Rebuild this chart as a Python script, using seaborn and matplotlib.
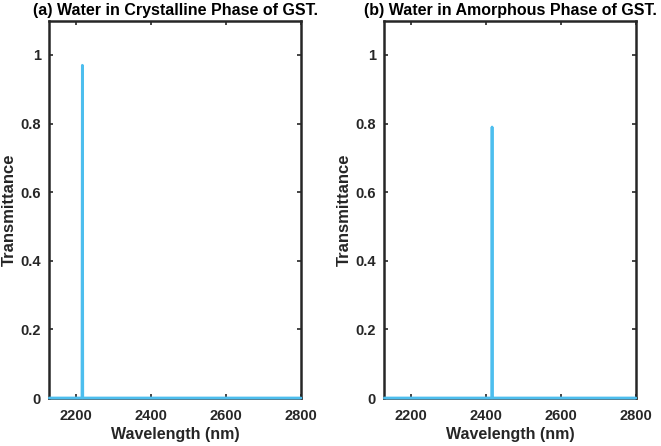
import matplotlib
matplotlib.use("Agg")
import matplotlib.pyplot as plt
import seaborn as sns
import pandas as pd

sns.set_theme(style="white")
plt.rcParams['font.family'] = ['Liberation Sans', 'DejaVu Sans']

titles = ["(a) Water in Crystalline Phase of GST.", "(b) Water in Amorphous Phase of GST."]
wl_a = [2130, 2217, 2218, 2219, 2800]
tr_a = [0.0, 0.0, 0.97, 0.0, 0.0]
wl_b = [2130, 2416, 2417, 2418, 2800]
tr_b = [0.0, 0.0, 0.79, 0.0, 0.0]
xticks = [2200, 2400, 2600, 2800]
yticks = [0, 0.2, 0.4, 0.6, 0.8, 1]
ytick_labels = ["0", "0.2", "0.4", "0.6", "0.8", "1"]

fig = plt.figure(figsize=(6.61, 4.46), dpi=100)
positions = [[0.0746, 0.1076, 0.3808, 0.8460], [0.5814, 0.1076, 0.3806, 0.8460]]
data = [(wl_a, tr_a), (wl_b, tr_b)]
for pos, (wl, tr), title in zip(positions, data, titles):
    ax = fig.add_axes(pos)
    df = pd.DataFrame({"Wavelength": wl, "Transmittance": tr})
    sns.lineplot(data=df, x="Wavelength", y="Transmittance", ax=ax,
                 color="#4DBEEE", linewidth=2.0, estimator=None, sort=False)
    for ln in ax.lines:
        ln.set_zorder(5)
        ln.set_clip_on(False)
    ax.set_xlim(2130, 2800)
    ax.set_ylim(0, 1.1)
    ax.set_xticks(xticks)
    ax.set_xticklabels([str(t) for t in xticks], fontsize=10.5, fontweight='bold', color='#262626')
    ax.set_yticks(yticks)
    ax.set_yticklabels(ytick_labels, fontsize=10.5, fontweight='bold', color='#262626')
    ax.tick_params(direction='in', length=3, width=1.2, top=True, right=True,
                   bottom=True, left=True, color='#262626')
    ax.tick_params(axis='x', pad=8)
    ax.tick_params(axis='y', pad=6)
    for s in ax.spines.values():
        s.set_visible(True)
        s.set_color('#262626')
        s.set_linewidth(1.8)
    ax.set_xlabel("Wavelength (nm)", fontsize=11.5, fontweight='bold', color='#262626', labelpad=3)
    ax.set_ylabel("Transmittance", fontsize=12, fontweight='bold', color='#262626', va='center')
    ax.yaxis.set_label_coords(-0.158, 0.5)
    ax.set_title(title, fontsize=11.5, fontweight='bold', color='black', pad=4)

fig.savefig("out.png", dpi=100)
